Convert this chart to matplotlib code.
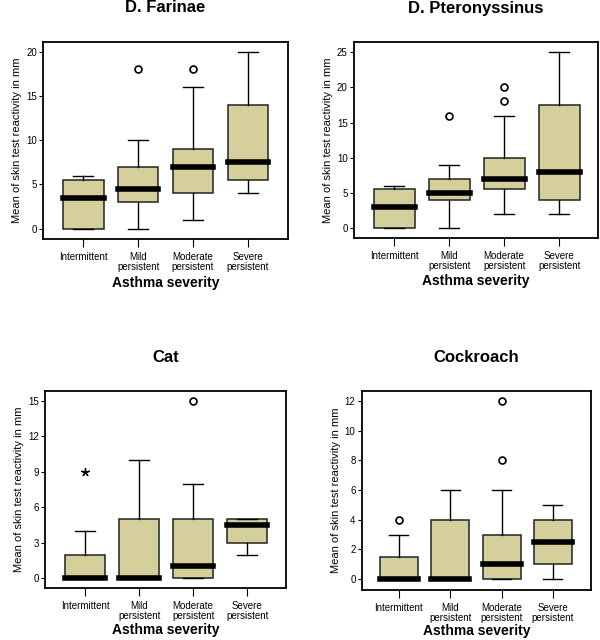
import matplotlib
matplotlib.use('Agg')
import matplotlib.pyplot as plt
import numpy as np

plt.rcParams['font.family'] = ['Liberation Sans', 'DejaVu Sans']

categories = ['Intermittent', 'Mild\npersistent', 'Moderate\npersistent', 'Severe\npersistent']

# per panel: whisker low, Q1, median, Q3, whisker high, outliers (circles), extremes (stars)
farinae_whislo = [0, 0, 1, 4]
farinae_q1 = [0, 3, 4, 5.5]
farinae_med = [3.5, 4.5, 7, 7.5]
farinae_q3 = [5.5, 7, 9, 14]
farinae_whishi = [6, 10, 16, 20]
farinae_outliers = [[], [18], [18], []]
farinae_extremes = [[], [], [], []]

pteron_whislo = [0, 0, 2, 2]
pteron_q1 = [0, 4, 5.5, 4]
pteron_med = [3, 5, 7, 8]
pteron_q3 = [5.5, 7, 10, 17.5]
pteron_whishi = [6, 9, 16, 25]
pteron_outliers = [[], [16], [18, 20], []]
pteron_extremes = [[], [], [], []]

cat_whislo = [0, 0, 0, 2]
cat_q1 = [0, 0, 0, 3]
cat_med = [0, 0, 1, 4.5]
cat_q3 = [2, 5, 5, 5]
cat_whishi = [4, 10, 8, 5]
cat_outliers = [[], [], [15], []]
cat_extremes = [[9], [], [], []]

roach_whislo = [0, 0, 0, 0]
roach_q1 = [0, 0, 0, 1]
roach_med = [0, 0, 1, 2.5]
roach_q3 = [1.5, 4, 3, 4]
roach_whishi = [3, 6, 6, 5]
roach_outliers = [[4], [], [8, 12], []]
roach_extremes = [[], [], [], []]

panels = [
    dict(title='D. Farinae', rect=[0.072, 0.627, 0.408, 0.308], ylim=(-1.13, 21.13), xlim=(0.27, 4.73),
         yticks=[0, 5, 10, 15, 20], stats=(farinae_whislo, farinae_q1, farinae_med, farinae_q3, farinae_whishi),
         outliers=farinae_outliers, extremes=farinae_extremes, labelpad=3),
    dict(title='D. Pteronyssinus', rect=[0.590, 0.628, 0.407, 0.306], ylim=(-1.42, 26.42), xlim=(0.27, 4.71),
         yticks=[0, 5, 10, 15, 20, 25], stats=(pteron_whislo, pteron_q1, pteron_med, pteron_q3, pteron_whishi),
         outliers=pteron_outliers, extremes=pteron_extremes, labelpad=2),
    dict(title='Cat', rect=[0.075, 0.081, 0.402, 0.308], ylim=(-0.85, 15.85), xlim=(0.26, 4.72),
         yticks=[0, 3, 6, 9, 12, 15], stats=(cat_whislo, cat_q1, cat_med, cat_q3, cat_whishi),
         outliers=cat_outliers, extremes=cat_extremes, labelpad=1.5),
    dict(title='Cockroach', rect=[0.603, 0.078, 0.382, 0.311], ylim=(-0.74, 12.67), xlim=(0.28, 4.74),
         yticks=[0, 2, 4, 6, 8, 10, 12], stats=(roach_whislo, roach_q1, roach_med, roach_q3, roach_whishi),
         outliers=roach_outliers, extremes=roach_extremes, labelpad=0.5),
]

box_color = '#d5cf9b'

fig = plt.figure(figsize=(6, 6.4), dpi=100)

for p in panels:
    ax = fig.add_axes(p['rect'])
    whislo, q1, med, q3, whishi = p['stats']
    bxp_stats = []
    for i in range(len(categories)):
        bxp_stats.append(dict(whislo=whislo[i], q1=q1[i], med=med[i], q3=q3[i], whishi=whishi[i],
                              fliers=p['outliers'][i]))
    ax.bxp(bxp_stats, positions=np.arange(1, 5), widths=0.74, patch_artist=True,
           boxprops=dict(facecolor=box_color, edgecolor='#222222', linewidth=1.1),
           medianprops=dict(color='black', linewidth=4.0, solid_capstyle='projecting'),
           whiskerprops=dict(color='black', linewidth=1.0),
           capprops=dict(color='black', linewidth=1.0),
           flierprops=dict(marker='o', markerfacecolor='white', markeredgecolor='black',
                           markersize=5, markeredgewidth=1.2, linestyle='none'))
    for i, ext in enumerate(p['extremes']):
        if ext:
            ax.plot([i + 1] * len(ext), ext, linestyle='none', marker=(5, 2, 0), color='black',
                    markersize=6, markeredgewidth=1.0)
    ax.set_xlim(p['xlim'])
    ax.set_ylim(p['ylim'])
    ax.set_yticks(p['yticks'])
    ax.set_xticks(np.arange(1, 5))
    ax.set_xticklabels(categories, fontsize=7, linespacing=0.95)
    ax.tick_params(axis='y', labelsize=7, length=3, width=0.8, pad=1.5)
    ax.tick_params(axis='x', length=6, width=0.8, pad=3.5)
    for s in ax.spines.values():
        s.set_linewidth(1.3)
    ax.set_ylabel('Mean of skin test reactivity in mm', fontsize=8, labelpad=3)
    ax.set_xlabel('Asthma severity', fontsize=10, fontweight='bold', labelpad=p['labelpad'])
    ax.set_title(p['title'], fontsize=12, fontweight='bold', pad=21)

fig.savefig('out.png', dpi=100, facecolor='white')
